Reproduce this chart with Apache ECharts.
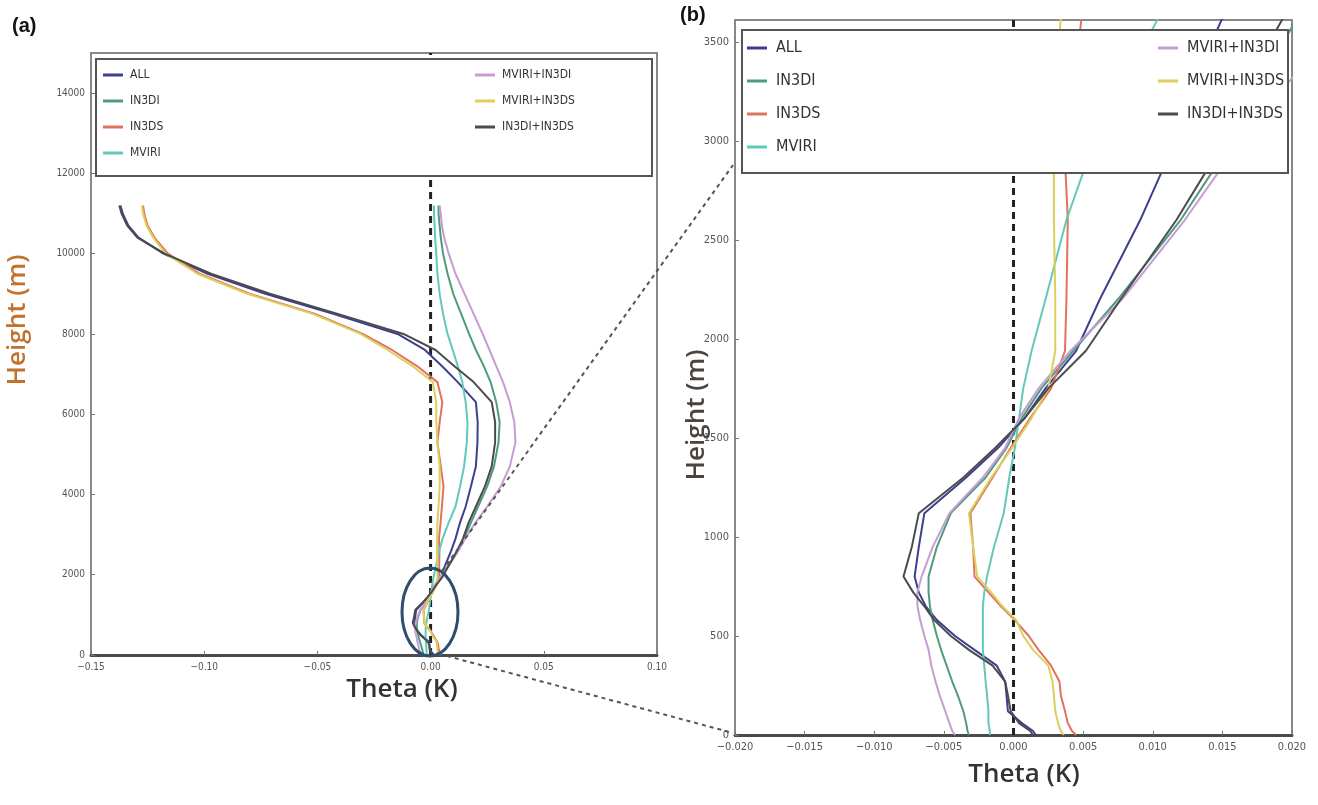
<!DOCTYPE html>
<html>
<head>
<meta charset="utf-8">
<script src="https://cdn.jsdelivr.net/npm/echarts@6/dist/echarts.min.js"></script>
<style>
html,body{margin:0;padding:0;background:#fff}
#chart{width:1318px;height:805px}
</style>
</head>
<body>
<div id="chart"></div>
<script>
// profile levels (m)
var heights = [0, 20, 60, 120, 200, 270, 350, 430, 500, 580, 650, 720, 800, 950, 1120, 1300, 1450, 1600, 1750, 1940, 2200, 2600, 2900,
  3300, 3700, 4200, 4700, 5300, 5800, 6300, 6800, 7200, 7600, 8000, 8500, 9000, 9500, 10000, 10400, 10700, 11000, 11200];

// theta difference (K) for every experiment, one value per level
var thetaALL = [0.0016, 0.0014, 0.0006, -0.0004, -0.0005, -0.0006, -0.0012, -0.0028, -0.0042, -0.0055, -0.0063, -0.0068, -0.0071, -0.0068, -0.0064, -0.0034, -0.0011, 0.0008, 0.0023, 0.0045, 0.0062, 0.0091, 0.011,
  0.013, 0.0155, 0.0178, 0.0200, 0.0207, 0.0208, 0.0200, 0.012, 0.005, -0.0025, -0.0146, -0.043, -0.073, -0.0985, -0.118, -0.129, -0.1335, -0.136, -0.137];
var thetaIN3DI = [-0.0032, -0.0033, -0.0034, -0.0036, -0.0040, -0.0044, -0.0048, -0.0052, -0.0055, -0.0058, -0.0060, -0.0061, -0.0061, -0.0055, -0.0045, -0.0020, -0.0005, 0.0006, 0.0020, 0.0043, 0.0075, 0.0120, 0.0148,
  0.0178, 0.021, 0.025, 0.028, 0.030, 0.0305, 0.029, 0.0265, 0.0235, 0.020, 0.017, 0.0135, 0.010, 0.0075, 0.0055, 0.0045, 0.004, 0.0035, 0.0035];
var thetaIN3DS = [0.0045, 0.0042, 0.0039, 0.0037, 0.0034, 0.0033, 0.0027, 0.0018, 0.0011, 0.0001, -0.0009, -0.0018, -0.0028, -0.0029, -0.0031, -0.0015, -0.0002, 0.0012, 0.0027, 0.0037, 0.0038, 0.0039, 0.0037,
  0.0044, 0.005, 0.0057, 0.0045, 0.003, 0.004, 0.0052, 0.003, -0.006, -0.017, -0.030, -0.051, -0.080, -0.102, -0.116, -0.122, -0.125, -0.1265, -0.127];
var thetaMVIRI = [-0.0017, -0.0017, -0.0018, -0.0018, -0.0019, -0.0020, -0.0021, -0.0022, -0.0022, -0.0022, -0.0022, -0.0021, -0.0019, -0.0014, -0.0007, -0.0003, 0.0001, 0.0004, 0.0007, 0.0013, 0.0023, 0.0038, 0.0053,
  0.008, 0.011, 0.013, 0.0148, 0.016, 0.0163, 0.0155, 0.014, 0.012, 0.0098, 0.0075, 0.0055, 0.004, 0.003, 0.0025, 0.002, 0.0018, 0.0015, 0.0015];
var thetaMVIRI_IN3DI = [-0.0042, -0.0044, -0.0046, -0.0049, -0.0053, -0.0056, -0.0059, -0.0061, -0.0064, -0.0067, -0.0069, -0.0069, -0.0066, -0.0058, -0.0046, -0.0022, -0.0006, 0.0004, 0.0018, 0.0041, 0.0078, 0.0123, 0.0153,
  0.0198, 0.025, 0.031, 0.035, 0.0375, 0.037, 0.035, 0.032, 0.029, 0.026, 0.023, 0.019, 0.015, 0.011, 0.008, 0.006, 0.005, 0.0045, 0.004];
var thetaMVIRI_IN3DS = [0.0036, 0.0034, 0.0032, 0.0030, 0.0029, 0.0028, 0.0025, 0.0014, 0.0007, 0.0002, -0.0008, -0.0016, -0.0026, -0.0029, -0.0032, -0.0016, -0.0001, 0.0013, 0.0025, 0.0030, 0.0030, 0.0029, 0.0029,
  0.003, 0.0035, 0.004, 0.004, 0.003, 0.0025, 0.0025, 0.001, -0.008, -0.019, -0.031, -0.052, -0.081, -0.103, -0.117, -0.1225, -0.1255, -0.127, -0.1275];
var thetaIN3DI_IN3DS = [0.0014, 0.0012, 0.0004, -0.0002, -0.0004, -0.0006, -0.0015, -0.0032, -0.0045, -0.0057, -0.0064, -0.0072, -0.0079, -0.0073, -0.0068, -0.0036, -0.0013, 0.0008, 0.0025, 0.0052, 0.0077, 0.0117, 0.0143,
  0.0168, 0.020, 0.024, 0.027, 0.0285, 0.0285, 0.027, 0.019, 0.0104, 0.0022, -0.012, -0.041, -0.071, -0.097, -0.1175, -0.1295, -0.134, -0.1365, -0.1375];

var names = ['ALL', 'IN3DI', 'IN3DS', 'MVIRI', 'MVIRI+IN3DI', 'MVIRI+IN3DS', 'IN3DI+IN3DS'];
var values = [thetaALL, thetaIN3DI, thetaIN3DS, thetaMVIRI, thetaMVIRI_IN3DI, thetaMVIRI_IN3DS, thetaIN3DI_IN3DS];
var colors = ['#3d3f8f', '#4f9c7c', '#e0735e', '#62c9b9', '#c79cd4', '#dccf5c', '#4b4b4f'];

// dashed zero reference lines
var zeroLineA = [[0, 0], [0, 15000]];
var zeroLineB = [[0, 0], [0, 3610]];

var narrow = "'Liberation Sans Narrow', 'DejaVu Sans Condensed', 'Arial Narrow', sans-serif";

function fmt(d) {
  return function (v) {
    if (Math.abs(v) < 1e-9) v = 0;
    return v.toFixed(d).replace('-', '\u2212');
  };
}

function xAxisOf(grid, min, max, step, d) {
  return {
    type: 'value', gridIndex: grid, min: min, max: max, interval: step,
    axisLine: {show: true, onZero: false, lineStyle: {color: '#4a4a4a', width: 3}},
    axisTick: {show: true, inside: true, length: 4, lineStyle: {color: '#777'}},
    axisLabel: {fontSize: grid ? 11 : 10, color: '#555', fontFamily: narrow, margin: 7, formatter: fmt(d)},
    splitLine: {show: false}
  };
}
function yAxisOf(grid, max, step) {
  return {
    type: 'value', gridIndex: grid, min: 0, max: max, interval: step,
    axisLine: {show: true, onZero: false, lineStyle: {color: '#888', width: 2}},
    axisTick: {show: true, inside: true, length: 4, lineStyle: {color: '#777'}},
    axisLabel: {fontSize: grid ? 11 : 10, color: '#555', fontFamily: narrow, margin: 6, showMaxLabel: false,
      formatter: function (v) { return String(v); }},
    splitLine: {show: false}
  };
}

var series = [];
for (var p = 0; p < 2; p++) {
  for (var i = 0; i < names.length; i++) {
    var pts = [];
    for (var k = 0; k < heights.length; k++) pts.push([values[i][k], heights[k]]);
    series.push({
      type: 'line', name: names[i], xAxisIndex: p, yAxisIndex: p,
      data: pts, symbol: 'none', showSymbol: false, color: colors[i],
      lineStyle: {width: 2, color: colors[i]}, z: 2
    });
  }
  series.push({
    type: 'line', name: 'zero', xAxisIndex: p, yAxisIndex: p,
    data: p ? zeroLineB : zeroLineA, symbol: 'none', color: '#222',
    lineStyle: {width: 3, color: '#222', type: [7, 5]}, z: 1
  });
}

function legendOf(items, left, top, size, gap, pad) {
  return {
    data: items, orient: 'vertical', left: left, top: top, icon: 'rect',
    itemWidth: 20, itemHeight: 3, itemGap: gap, z: 6,
    textStyle: {fontSize: size, lineHeight: size + 2, color: '#333', fontFamily: narrow, padding: [0, 0, 0, pad]}
  };
}

var chart = echarts.init(document.getElementById('chart'));
chart.setOption({
  animation: false,
  backgroundColor: '#fff',
  grid: [
    {left: 91, top: 53, width: 566, height: 602, show: true, borderColor: '#888', borderWidth: 2},
    {left: 735, top: 20, width: 557, height: 715, show: true, borderColor: '#888', borderWidth: 2}
  ],
  xAxis: [xAxisOf(0, -0.15, 0.10, 0.05, 2), xAxisOf(1, -0.02, 0.02, 0.005, 3)],
  yAxis: [yAxisOf(0, 15000, 2000), yAxisOf(1, 3610, 500)],
  legend: [
    legendOf(names.slice(0, 4), 98, 63, 12, 12, 2),
    legendOf(names.slice(4), 470, 63, 12, 12, 2),
    legendOf(names.slice(0, 4), 742, 34, 16, 15, 4),
    legendOf(names.slice(4), 1153, 34, 16, 15, 4)
  ],
  series: series,
  graphic: [
    {type: 'rect', z: 5, shape: {x: 96, y: 59, width: 556, height: 117},
      style: {fill: '#fff', stroke: '#555', lineWidth: 2}},
    {type: 'rect', z: 5, shape: {x: 742, y: 30, width: 546, height: 143},
      style: {fill: '#fff', stroke: '#555', lineWidth: 2}},
    {type: 'ellipse', z: 7, shape: {cx: 430, cy: 612, rx: 28, ry: 44},
      style: {fill: 'none', stroke: '#2f4d6c', lineWidth: 3}},
    {type: 'line', z: 7, shape: {x1: 442, y1: 571, x2: 733, y2: 165},
      style: {stroke: '#555', lineWidth: 2, lineDash: [4, 4]}},
    {type: 'line', z: 7, shape: {x1: 447, y1: 656, x2: 733, y2: 733},
      style: {stroke: '#555', lineWidth: 2, lineDash: [4, 4]}},
    {type: 'text', z: 7, x: 12, y: 16,
      style: {text: '(a)', font: 'bold 20px "Liberation Sans", Arial, sans-serif', fill: '#111'}},
    {type: 'text', z: 7, x: 680, y: 5,
      style: {text: '(b)', font: 'bold 20px "Liberation Sans", Arial, sans-serif', fill: '#111'}},
    {type: 'text', z: 7, x: 402, y: 690,
      style: {text: 'Theta (K)', font: '600 26px "Open Sans", sans-serif', fill: '#333', align: 'center', verticalAlign: 'middle'}},
    {type: 'text', z: 7, x: 1024, y: 775,
      style: {text: 'Theta (K)', font: '600 26px "Open Sans", sans-serif', fill: '#333', align: 'center', verticalAlign: 'middle'}},
    {type: 'text', z: 7, x: 18, y: 320, rotation: Math.PI / 2,
      style: {text: 'Height (m)', font: '600 26px "Open Sans", sans-serif', fill: '#c0722e', align: 'center', verticalAlign: 'middle'}},
    {type: 'text', z: 7, x: 697, y: 415, rotation: Math.PI / 2,
      style: {text: 'Height (m)', font: '600 26px "Open Sans", sans-serif', fill: '#4a4440', align: 'center', verticalAlign: 'middle'}}
  ]
});
</script>
</body>
</html>
